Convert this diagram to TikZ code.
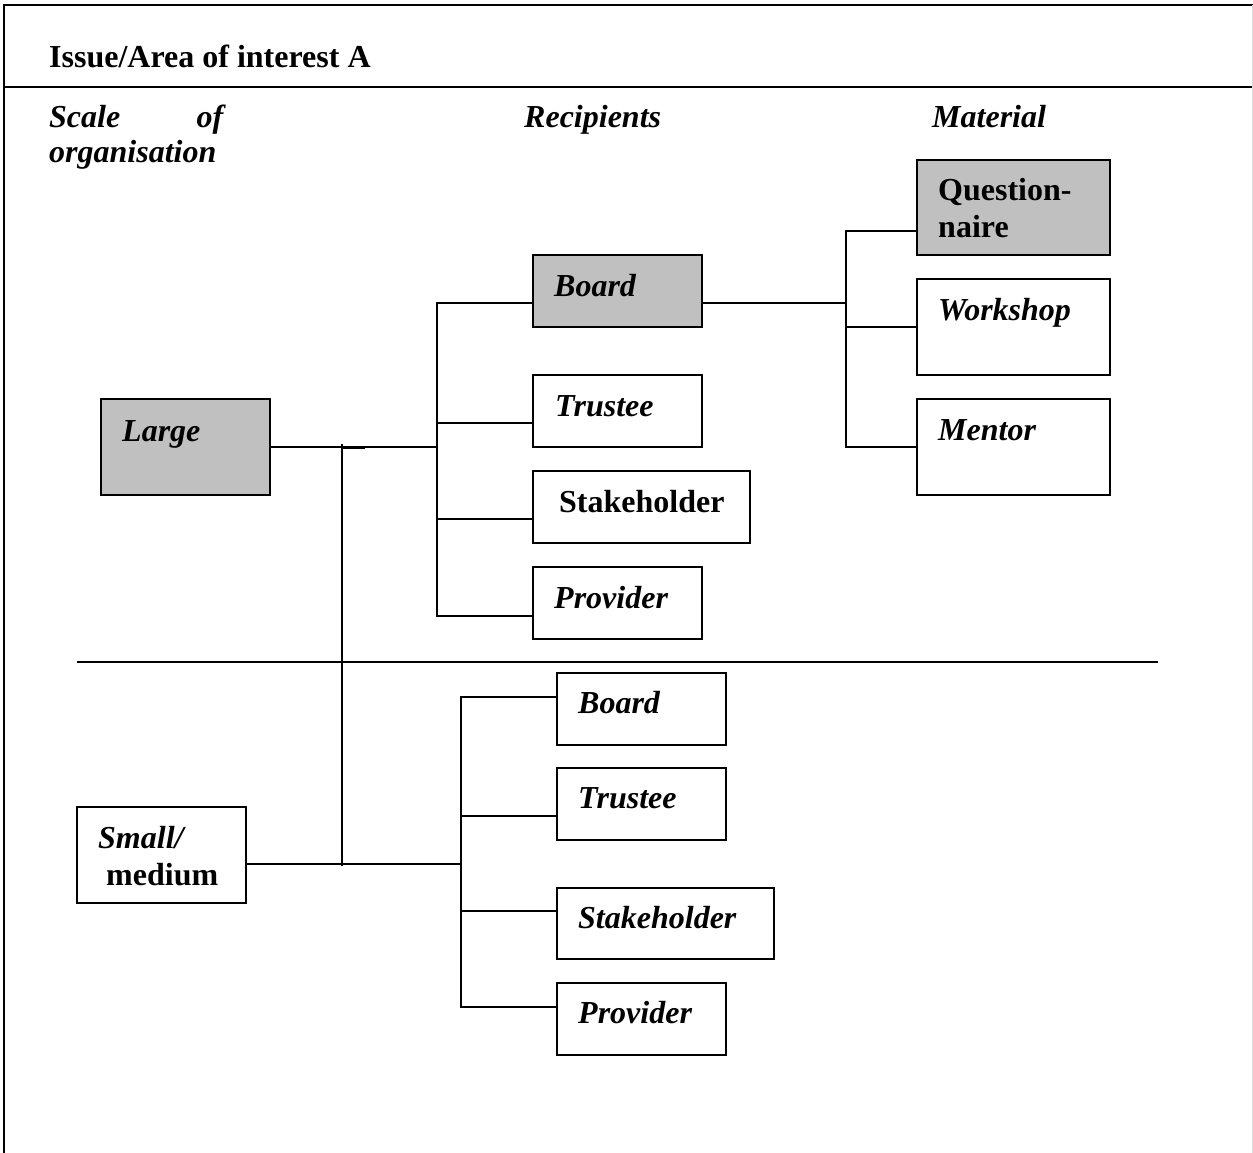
\documentclass[tikz,border=0pt]{standalone}
\usepackage{fontspec}
\setmainfont{Liberation Serif}
\definecolor{boxgray}{HTML}{C0C0C0}
\begin{document}
\begin{tikzpicture}[x=1pt,y=-1pt,
  box/.style={draw, line width=1.9pt, inner sep=0pt, outer sep=0pt, anchor=north west},
  gbox/.style={box, fill=boxgray},
  lbl/.style={anchor=base west, inner sep=0pt, font=\fontsize{32}{36}\selectfont\bfseries\itshape},
  lblu/.style={anchor=base west, inner sep=0pt, font=\fontsize{32}{36}\selectfont\bfseries},
  conn/.style={line width=1.8pt},
  rule/.style={line width=1.8pt}]
\useasboundingbox (0,0) rectangle (1253,1153);
% table frame
\draw[rule] (4,1153) -- (4,5) -- (1253,5);
\draw[rule] (4,87) -- (1253,87);
\draw[line width=1pt, black!15] (1252,5) -- (1252,1153);
\draw[rule] (77,662) -- (1158,662);
% headings
\node[lblu] (title) at (49,68) {Issue/Area of interest A};
\node[lbl] (scale1) at (49,128) {\hbox to 174pt{Scale\hfill of}};
\node[lbl] (scale2) at (49,163) {organisation};
\node[lbl] (recip) at (524,128) {Recipients};
\node[lbl] (mater) at (932,128) {Material};
% boxes
\node[gbox, minimum width=169pt, minimum height=96pt] (large) at (101,399) {};
\node[box, minimum width=169pt, minimum height=96pt] (small) at (77,807) {};
\node[gbox, minimum width=169pt, minimum height=72pt] (b1) at (533,255) {};
\node[box, minimum width=169pt, minimum height=72pt] (t1) at (533,375) {};
\node[box, minimum width=217pt, minimum height=72pt] (s1) at (533,471) {};
\node[box, minimum width=169pt, minimum height=72pt] (p1) at (533,567) {};
\node[gbox, minimum width=193pt, minimum height=95pt] (q) at (917,160) {};
\node[box, minimum width=193pt, minimum height=96pt] (w) at (917,279) {};
\node[box, minimum width=193pt, minimum height=96pt] (m) at (917,399) {};
\node[box, minimum width=169pt, minimum height=72pt] (b2) at (557,673) {};
\node[box, minimum width=169pt, minimum height=72pt] (t2) at (557,768) {};
\node[box, minimum width=217pt, minimum height=71pt] (s2) at (557,888) {};
\node[box, minimum width=169pt, minimum height=72pt] (p2) at (557,983) {};
% labels
\node[lbl] (largeT) at (122,441) {Large};
\node[lbl] (smallT1) at (98,848) {Small/};
\node[lblu] (smallT2) at (106,885) {medium};
\node[lbl] (b1T) at (554,296) {Board};
\node[lbl] (t1T) at (555,416) {Trustee};
\node[lblu] (s1T) at (559,512) {Stakeholder};
\node[lbl] (p1T) at (554,608) {Provider};
\node[lblu] (qT1) at (938,200) {Question-};
\node[lblu] (qT2) at (938,237) {naire};
\node[lbl] (wT) at (938,320) {Workshop};
\node[lbl] (mT) at (938,440) {Mentor};
\node[lbl] (b2T) at (578,713) {Board};
\node[lbl] (t2T) at (578,808) {Trustee};
\node[lbl] (s2T) at (578,928) {Stakeholder};
\node[lbl] (p2T) at (578,1023) {Provider};
% connector points
\coordinate (bus1) at (437,447);
\coordinate (bus2) at (461,864);
\coordinate (bus3) at (846,303);
\coordinate (spTop) at (342,444);
\coordinate (spBot) at (342,866);
\coordinate (spA) at (342,447);
\coordinate (spB) at (365,447);
\coordinate (b1in) at ([yshift=-12pt]b1.west);
\coordinate (t1in) at ([yshift=-12pt]t1.west);
\coordinate (s1in) at ([yshift=-12pt]s1.west);
\coordinate (p1in) at ([yshift=-13pt]p1.west);
\coordinate (b1out) at ([yshift=-12pt]b1.east);
\coordinate (qin) at ([yshift=-23.5pt]q.west);
\coordinate (smout) at ([yshift=-9pt]small.east);
\coordinate (b2in) at ([yshift=12pt]b2.west);
\coordinate (t2in) at ([yshift=-12pt]t2.west);
\coordinate (s2in) at ([yshift=12.5pt]s2.west);
\coordinate (p2in) at ([yshift=12pt]p2.west);
% connectors
\draw[conn] (large.east) -- (bus1);
\draw[conn] (spTop) -- (spBot);
\draw[line width=3pt] (spA) -- (spB);
\draw[conn] (b1in) -| (bus1) |- (p1in);
\draw[conn] (t1in) -- (t1in -| bus1);
\draw[conn] (s1in) -- (s1in -| bus1);
\draw[conn] (b1out) -- (bus3);
\draw[conn] (qin) -| (bus3) |- (m.west);
\draw[conn] (w.west) -- (w.west -| bus3);
\draw[conn] (smout) -- (bus2);
\draw[conn] (b2in) -| (bus2) |- (p2in);
\draw[conn] (t2in) -- (t2in -| bus2);
\draw[conn] (s2in) -- (s2in -| bus2);
\end{tikzpicture}
\end{document}
